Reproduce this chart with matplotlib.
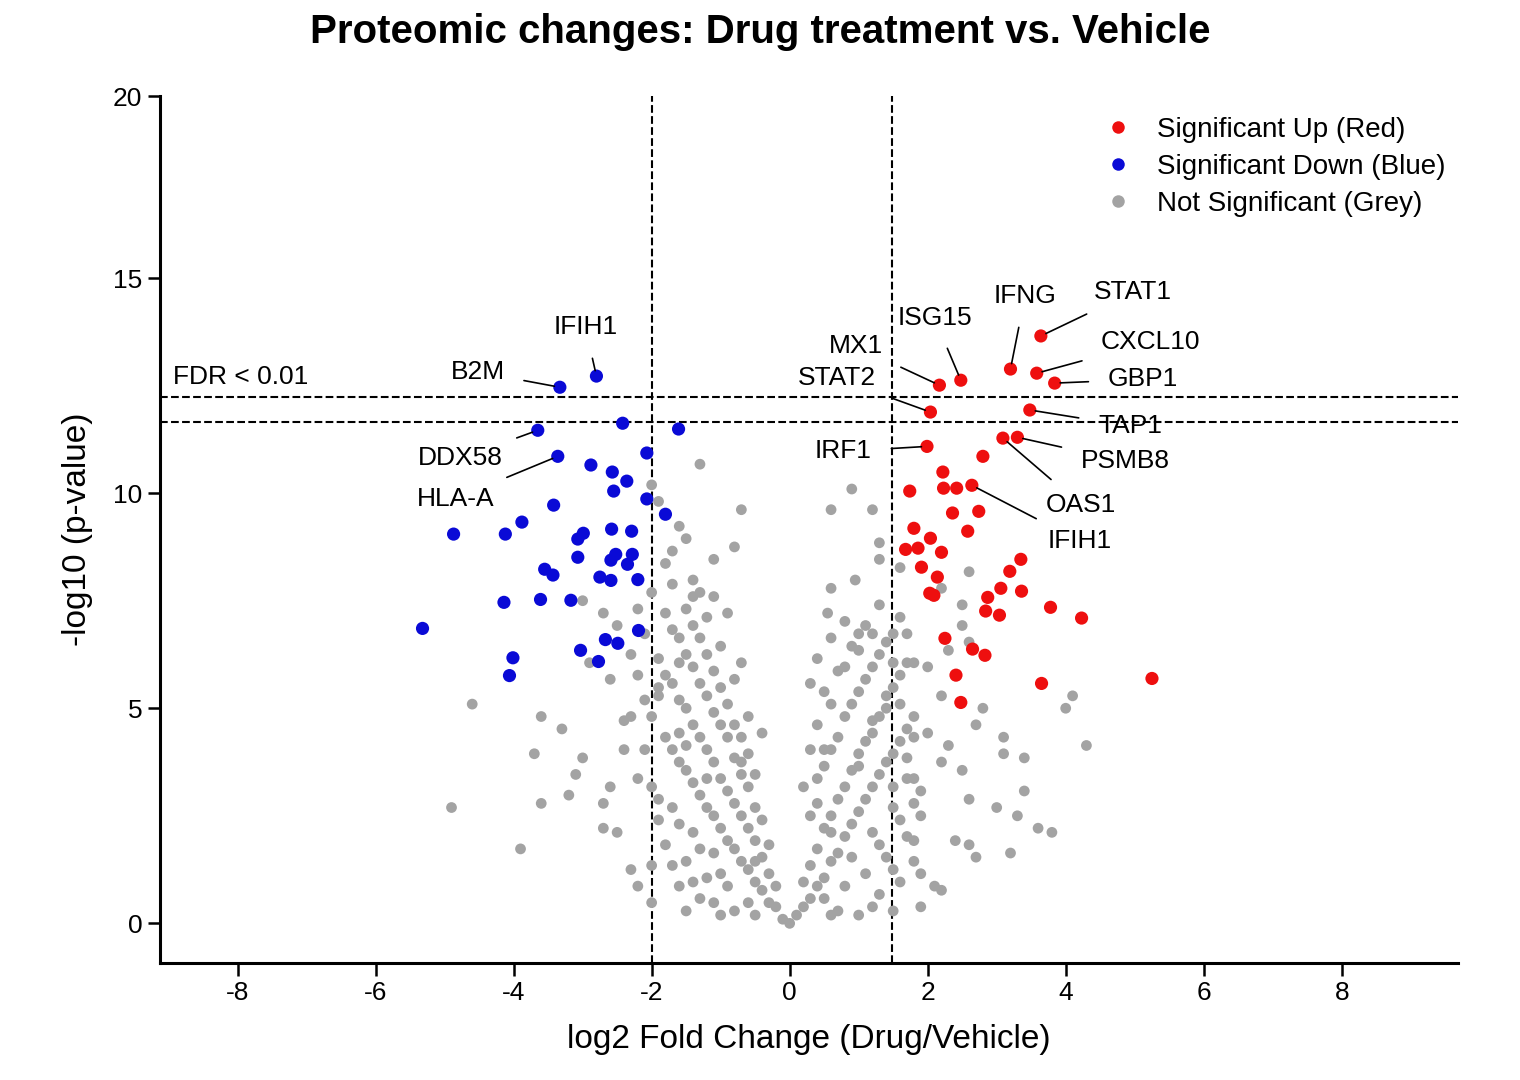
import matplotlib
matplotlib.use("Agg")
import matplotlib.pyplot as plt
from matplotlib.lines import Line2D

plt.rcParams["font.family"] = ["Liberation Sans", "DejaVu Sans"]
plt.rcParams["axes.unicode_minus"] = False

# values were read with a slightly wrong y pixel scale; this corrects them
Y_CAL = 0.9616

# significant up (red)
up_x = [3.64, 3.20, 3.58, 3.84, 2.48, 2.17, 2.04, 3.48, 3.09, 3.30, 1.99, 2.80, 2.22, 2.23, 2.42,
        2.64, 1.74, 2.74, 2.36, 1.80, 2.58, 2.04, 1.68, 2.20, 1.86, 1.91, 3.35, 3.19, 2.14, 2.03,
        2.09, 3.36, 2.87, 3.06, 3.78, 2.84, 3.04, 4.23, 2.25, 2.65, 2.83, 2.41, 5.25, 3.65, 2.48]
up_y = [14.20, 13.40, 13.30, 13.06, 13.13, 13.01, 12.36, 12.41, 11.73, 11.75, 11.53, 11.29, 10.91,
        10.52, 10.52, 10.59, 10.45, 9.96, 9.92, 9.55, 9.48, 9.31, 9.04, 8.97, 9.07, 8.61, 8.80,
        8.51, 8.37, 7.98, 7.93, 8.03, 7.88, 8.10, 7.64, 7.55, 7.45, 7.38, 6.89, 6.63, 6.48, 6.00,
        5.92, 5.80, 5.34]

# significant down (blue)
down_x = [-3.33, -2.80, -3.65, -2.42, -1.61, -3.36, -2.07, -2.88, -2.57, -2.36, -2.55, -2.07,
          -3.42, -1.80, -3.88, -2.29, -2.58, -4.12, -4.87, -2.99, -3.07, -2.52, -2.28, -3.07,
          -2.59, -2.35, -3.55, -3.43, -2.75, -2.59, -2.20, -4.14, -3.61, -3.17, -5.32, -2.19,
          -2.67, -2.49, -3.03, -4.01, -2.77, -4.06]
down_y = [12.96, 13.23, 11.92, 12.09, 11.95, 11.29, 11.37, 11.08, 10.91, 10.69, 10.45, 10.26,
          10.11, 9.89, 9.70, 9.48, 9.53, 9.41, 9.41, 9.43, 9.29, 8.92, 8.92, 8.85, 8.78, 8.68,
          8.56, 8.42, 8.37, 8.29, 8.31, 7.76, 7.83, 7.81, 7.13, 7.08, 6.86, 6.77, 6.60, 6.42,
          6.33, 5.99]

# not significant (grey)
grey_pts = [
    (-4.6, 5.3), (-4.9, 2.8), (-3.9, 1.8), (-3.6, 2.9), (-3.7, 4.1), (-3.6, 5.0), (-3.2, 3.1),
    (-3.1, 3.6), (-3.3, 4.7), (-3.0, 4.0), (-2.7, 2.9), (-2.7, 2.3), (-2.6, 3.3), (-2.5, 2.2),
    (-2.4, 4.9), (-2.3, 1.3), (-2.2, 0.9), (-2.0, 1.4), (-3.0, 7.8), (-2.9, 6.3), (-2.6, 5.9),
    (-2.7, 7.5), (-2.2, 6.0), (-2.1, 5.4), (-2.5, 7.2), (-1.9, 5.7), (-1.8, 8.7), (-1.7, 9.0),
    (-1.5, 9.3), (-1.4, 8.3), (-1.3, 8.0), (-1.1, 8.8), (-0.8, 9.1), (-0.7, 10.0), (-1.3, 11.1),
    (-1.9, 10.2), (-2.0, 10.6), (-1.6, 9.6),
    (0.6, 10.0), (1.2, 10.0), (0.9, 10.5), (1.3, 9.2), (1.3, 8.8), (1.6, 8.6), (0.95, 8.3),
    (0.6, 8.1), (0.55, 7.5), (1.7, 7.0), (1.8, 6.3), (2.2, 8.1), (2.2, 5.5), (2.3, 4.3),
    (2.5, 3.7), (2.6, 3.0), (2.4, 2.0), (2.6, 1.9), (2.7, 1.6), (3.0, 2.8), (3.3, 2.6),
    (3.4, 3.2), (3.1, 4.1), (3.1, 4.5), (2.7, 4.8), (2.8, 5.2), (3.4, 4.0), (3.2, 1.7),
    (3.6, 2.3), (3.8, 2.2), (4.0, 5.2), (4.1, 5.5), (4.3, 4.3), (2.5, 7.2), (2.6, 6.8),
    (2.3, 6.6), (2.6, 8.5), (2.5, 7.7), (2.0, 6.2), (2.2, 3.9), (2.1, 0.9), (2.2, 0.8),
    (1.9, 1.2), (1.8, 2.0), (1.7, 3.5), (1.8, 4.5), (1.6, 5.3), (2.0, 4.6), (1.9, 3.2),
    (-0.2, 0.4), (-0.4, 0.8), (-0.6, 1.3), (-0.8, 1.8), (-1.0, 2.3), (-1.2, 2.8), (-1.4, 3.4),
    (-1.6, 3.9), (-1.8, 4.5), (-2.0, 5.0), (-0.3, 1.2), (-0.5, 2.0), (-0.7, 2.6), (-0.9, 3.2),
    (-1.1, 3.9), (-1.3, 4.5), (-1.5, 5.2), (-1.7, 5.8), (-1.9, 6.4), (-2.1, 7.0), (-0.4, 2.5),
    (-0.6, 3.3), (-0.8, 4.0), (-1.0, 4.8), (-1.2, 5.5), (-1.4, 6.2), (-1.6, 6.9), (-1.8, 7.5),
    (-2.0, 8.0), (-0.5, 3.6), (-0.7, 4.5), (-0.9, 5.3), (-1.1, 6.1), (-1.3, 6.9), (-1.5, 7.6),
    (-1.7, 8.2), (-0.6, 5.0), (-0.8, 5.9), (-1.0, 6.7), (-1.2, 7.4), (-1.4, 7.9), (-0.9, 7.5),
    (-1.1, 7.9), (-0.7, 6.3), (-0.4, 4.6), (-0.1, 0.1), (-0.2, 0.9), (-0.3, 1.9), (-0.6, 0.5),
    (-0.9, 0.9), (-1.2, 1.1), (-1.5, 1.5), (-1.8, 1.9), (-1.1, 1.7), (-1.4, 2.2), (-1.7, 2.8),
    (-2.0, 3.3), (-0.8, 0.3), (-1.3, 0.6), (-1.6, 0.9), (-1.9, 2.5), (-2.2, 3.5), (-2.4, 4.2),
    (-2.3, 5.0), (-2.3, 6.5), (-2.2, 7.6), (-1.6, 4.6), (-1.2, 3.5), (-1.0, 1.2), (-0.5, 1.5),
    (-0.7, 3.6), (-1.5, 4.3), (-1.9, 5.5), (-1.6, 6.3), (-2.1, 4.2),
    (0.2, 0.4), (0.4, 0.9), (0.6, 1.5), (0.8, 2.1), (1.0, 2.7), (1.2, 3.3), (1.4, 3.9),
    (1.6, 4.4), (1.8, 5.0), (0.3, 1.4), (0.5, 2.3), (0.7, 3.0), (0.9, 3.7), (1.1, 4.4),
    (1.3, 5.0), (1.5, 5.7), (1.7, 6.3), (0.3, 2.6), (0.4, 3.5), (0.6, 4.2), (0.8, 5.0),
    (1.0, 5.6), (1.2, 6.2), (1.4, 6.8), (1.6, 7.4), (0.4, 4.8), (0.5, 5.6), (0.7, 6.1),
    (0.9, 6.7), (1.1, 7.2), (1.3, 7.7), (0.6, 6.9), (0.8, 7.3), (0.3, 5.8), (0.5, 4.2),
    (0.2, 3.3), (0.1, 0.2), (0.2, 1.0), (0.5, 0.6), (0.8, 0.9), (1.1, 1.2), (1.4, 1.6),
    (1.7, 2.1), (0.9, 1.6), (1.2, 2.2), (1.5, 2.8), (1.8, 3.5), (0.7, 0.3), (1.3, 0.7),
    (1.6, 1.0), (1.9, 2.6), (1.0, 3.8), (1.4, 5.2), (1.7, 4.0), (1.5, 3.3), (0.6, 2.2),
    (1.2, 4.9), (1.0, 6.6), (1.5, 6.3), (0.0, 0.0), (-1.0, 0.2), (1.0, 0.2), (-1.5, 0.3),
    (1.5, 0.3), (-2.0, 0.5), (1.9, 0.4),
    # extra fill for the dense core
    (-0.3, 0.5), (-0.5, 1.0), (-0.7, 1.5), (-0.9, 2.0), (-1.1, 2.6), (-1.3, 3.1), (-1.5, 3.7),
    (-1.7, 4.2), (-0.4, 1.6), (-0.6, 2.3), (-0.8, 2.9), (-1.0, 3.5), (-1.2, 4.2), (-1.4, 4.8),
    (-1.6, 5.4), (-1.8, 6.0), (-0.5, 2.8), (-0.7, 3.9), (-0.9, 4.5), (-1.1, 5.1), (-1.3, 5.8),
    (-1.5, 6.5), (-1.7, 7.1), (-0.6, 4.1), (-0.8, 4.8), (-1.0, 5.7), (-1.2, 6.5), (-1.4, 7.2),
    (-0.5, 0.2), (-1.1, 0.5), (-1.4, 1.0), (-1.7, 1.4), (-1.3, 1.8), (-1.6, 2.4), (-1.9, 3.0),
    (0.3, 0.6), (0.5, 1.1), (0.7, 1.7), (0.9, 2.4), (1.1, 3.0), (1.3, 3.6), (1.5, 4.1),
    (1.7, 4.7), (0.4, 1.8), (0.6, 2.6), (0.8, 3.3), (1.0, 4.1), (1.2, 4.6), (1.4, 5.5),
    (1.6, 6.0), (0.4, 2.9), (0.5, 3.8), (0.7, 4.5), (0.9, 5.3), (1.1, 5.9), (1.3, 6.5),
    (1.5, 7.0), (0.6, 5.3), (0.8, 6.2), (1.0, 7.0), (1.2, 7.0), (0.4, 6.4), (0.6, 0.2),
    (1.2, 0.4), (1.5, 1.3), (1.8, 1.5), (1.3, 1.9), (1.6, 2.5), (1.8, 2.9), (0.3, 4.2),
]
grey_x = [p[0] for p in grey_pts]
grey_y = [p[1] * Y_CAL for p in grey_pts]
up_y = [v * Y_CAL for v in up_y]
down_y = [v * Y_CAL for v in down_y]

# gene labels: name, point (x, y), text (x, y)
labels = [
    ("B2M", (-3.33, 12.96), (-4.52, 13.33)),
    ("IFIH1", (-2.80, 13.23), (-2.96, 14.41)),
    ("DDX58", (-3.65, 11.92), (-4.77, 11.24)),
    ("HLA-A", (-3.36, 11.29), (-4.84, 10.27)),
    ("MX1", (2.17, 13.01), (0.96, 13.95)),
    ("STAT2", (2.04, 12.36), (0.68, 13.18)),
    ("ISG15", (2.48, 13.13), (2.10, 14.63)),
    ("IFNG", (3.20, 13.40), (3.41, 15.16)),
    ("STAT1", (3.64, 14.20), (4.97, 15.26)),
    ("CXCL10", (3.58, 13.30), (5.23, 14.05)),
    ("GBP1", (3.84, 13.06), (5.12, 13.15)),
    ("TAP1", (3.48, 12.41), (4.93, 12.02)),
    ("PSMB8", (3.30, 11.75), (4.86, 11.17)),
    ("OAS1", (3.09, 11.73), (4.22, 10.11)),
    ("IFIH1", (2.64, 10.59), (4.20, 9.24)),
    ("IRF1", (1.99, 11.53), (0.78, 11.41)),
]

fc_lines = [-2.0, 1.48]
p_lines = [12.72, 12.12]

fig = plt.figure(figsize=(15.2, 10.8), dpi=100)
ax = fig.add_axes([0.105, 0.108, 0.854, 0.803])

ax.scatter(grey_x, grey_y, s=60, color="#a3a3a3", edgecolors="none", zorder=2)
ax.scatter(up_x, up_y, s=90, color="#ee0f0f", edgecolors="none", zorder=3)
ax.scatter(down_x, down_y, s=90, color="#0a0ad6", edgecolors="none", zorder=3)

for xv in fc_lines:
    ax.axvline(xv, color="black", ls="--", lw=1.5, zorder=1)
for yv in p_lines:
    ax.axhline(yv * Y_CAL, color="black", ls="--", lw=1.5, zorder=1)
ax.text(-8.94, 13.2 * Y_CAL, "FDR < 0.01", fontsize=19, ha="left", va="center")

for name, pt, txt in labels:
    ax.annotate(name, xy=(pt[0], pt[1] * Y_CAL), xytext=(txt[0], txt[1] * Y_CAL),
                fontsize=19, ha="center", va="center",
                arrowprops=dict(arrowstyle="-", color="black", lw=1.2,
                                shrinkA=12, shrinkB=4), zorder=4)

top = 19.23
ax.set_xlim(-9.13, 9.68)
ax.set_ylim(-0.93, top)
ax.set_xticks(range(-8, 9, 2))
ax.set_yticks([0, 5, 10, 15, top])
ax.set_yticklabels(["0", "5", "10", "15", "20"])
ax.tick_params(labelsize=19, width=1.8, length=9)
for s in ["top", "right"]:
    ax.spines[s].set_visible(False)
for s in ["left", "bottom"]:
    ax.spines[s].set_linewidth(2.2)

ax.set_xlabel("log2 Fold Change (Drug/Vehicle)", fontsize=24, labelpad=14)
ax.set_ylabel("-log10 (p-value)", fontsize=24, labelpad=14)
fig.suptitle("Proteomic changes: Drug treatment vs. Vehicle", fontsize=29,
             fontweight="bold", y=0.988)

legend_items = [("Significant Up (Red)", "#ee0f0f"),
                ("Significant Down (Blue)", "#0a0ad6"),
                ("Not Significant (Grey)", "#a3a3a3")]
handles = [Line2D([], [], ls="", marker="o", ms=9, mec="none", color=c) for _, c in legend_items]
ax.legend(handles, [n for n, _ in legend_items], loc="upper right", frameon=False,
          fontsize=20, handletextpad=0.4, labelspacing=0.4, bbox_to_anchor=(1.01, 1.005))

fig.savefig("out.png", dpi=100)
